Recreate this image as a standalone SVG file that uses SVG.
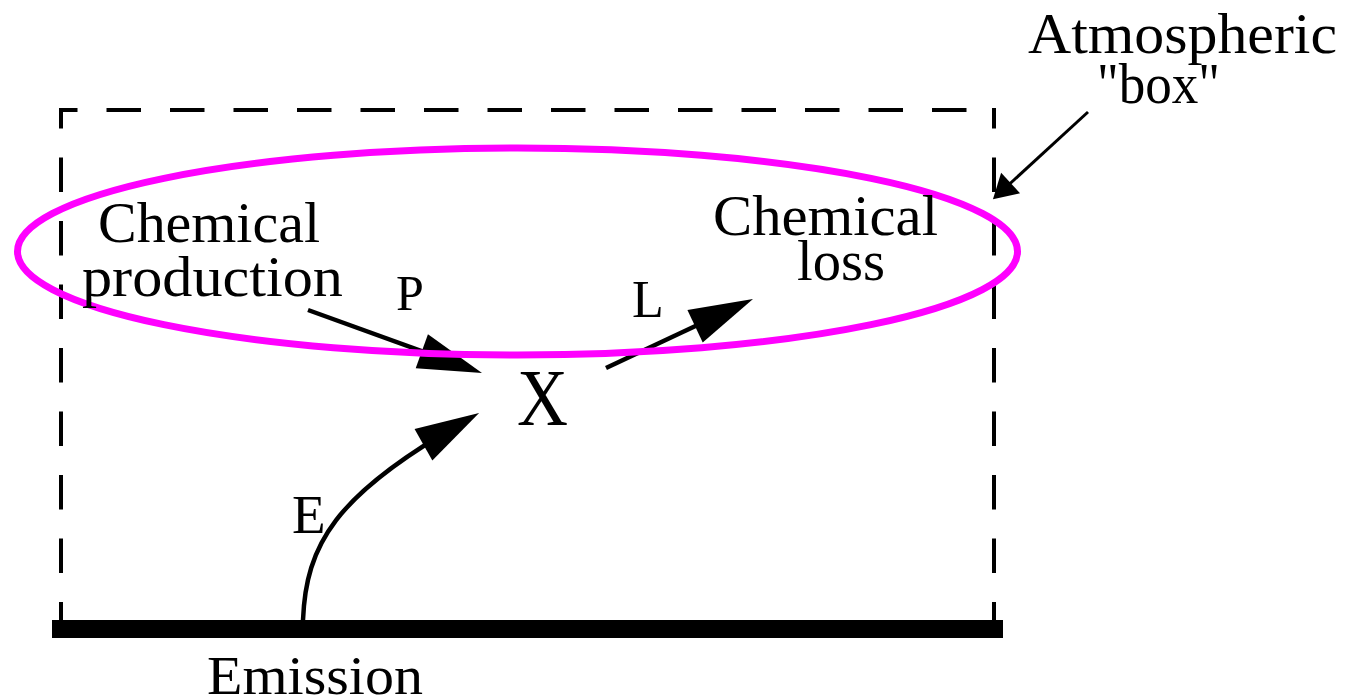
<svg xmlns="http://www.w3.org/2000/svg" width="1345" height="698" viewBox="0 0 1345 698">
<style>
.lbl{font-family:"Liberation Serif","Times New Roman",serif;fill:#000}
.dash{stroke:#000;stroke-width:4;fill:none;stroke-dasharray:34.5 29}
.conn{stroke:#000;stroke-width:4.5;fill:none}
</style>
<defs>
<marker id="big" markerUnits="userSpaceOnUse" markerWidth="64" markerHeight="36" refX="44" refY="18" orient="auto" overflow="visible">
<path d="M0,0 L64,18 L0,36 Z" fill="#000"/>
</marker>
<marker id="small" markerUnits="userSpaceOnUse" markerWidth="24" markerHeight="28" refX="14" refY="14" orient="auto" overflow="visible">
<path d="M0,0 L24,14 L0,28 Z" fill="#000"/>
</marker>
</defs>
<rect width="1345" height="698" fill="#fff"/>
<g id="box">
<line class="dash" x1="59" y1="110" x2="996" y2="110" stroke-dashoffset="16"/>
<line class="dash" x1="61" y1="108" x2="61" y2="622" stroke-dashoffset="14"/>
<line class="dash" x1="994" y1="108" x2="994" y2="622" stroke-dashoffset="14"/>
</g>
<g id="ground">
<rect x="52" y="620" width="951" height="18" fill="#000"/>
</g>
<g id="connectors">
<line class="conn" x1="308" y1="310" x2="463.2" y2="366.2" marker-end="url(#big)"/>
<line class="conn" x1="606" y1="368" x2="734.9" y2="307.5" marker-end="url(#big)"/>
<path class="conn" d="M303,620 C306,545 335,495 461.7,423" marker-end="url(#big)"/>
<line stroke="#000" stroke-width="3" x1="1088" y1="112" x2="1000.3" y2="192.5" marker-end="url(#small)"/>
</g>
<g id="atmosphere">
<ellipse cx="517.5" cy="251.5" rx="500" ry="103.5" fill="none" stroke="#ff00ff" stroke-width="7"/>
</g>
<g id="production">
<text class="lbl" x="98" y="242" font-size="57" textLength="222" lengthAdjust="spacingAndGlyphs">Chemical</text>
<text class="lbl" x="82" y="296" font-size="57" textLength="261" lengthAdjust="spacingAndGlyphs">production</text>
</g>
<g id="loss">
<text class="lbl" x="713" y="235" font-size="57" textLength="225" lengthAdjust="spacingAndGlyphs">Chemical</text>
<text class="lbl" x="797" y="280" font-size="57" textLength="88" lengthAdjust="spacingAndGlyphs">loss</text>
</g>
<g id="species">
<text class="lbl" x="517" y="425" font-size="80" textLength="51" lengthAdjust="spacingAndGlyphs">X</text>
</g>
<g id="emission">
<text class="lbl" x="207" y="694" font-size="54" textLength="216" lengthAdjust="spacingAndGlyphs">Emission</text>
</g>
<g id="box-label">
<text class="lbl" x="1028" y="53" font-size="57" textLength="309" lengthAdjust="spacingAndGlyphs">Atmospheric</text>
<text class="lbl" x="1097" y="103" font-size="57" textLength="123" lengthAdjust="spacingAndGlyphs">"box"</text>
</g>
<g id="flux-labels">
<text class="lbl" x="396" y="310" font-size="50">P</text>
<text class="lbl" x="632" y="317" font-size="52">L</text>
<text class="lbl" x="292" y="533" font-size="55">E</text>
</g>
</svg>
